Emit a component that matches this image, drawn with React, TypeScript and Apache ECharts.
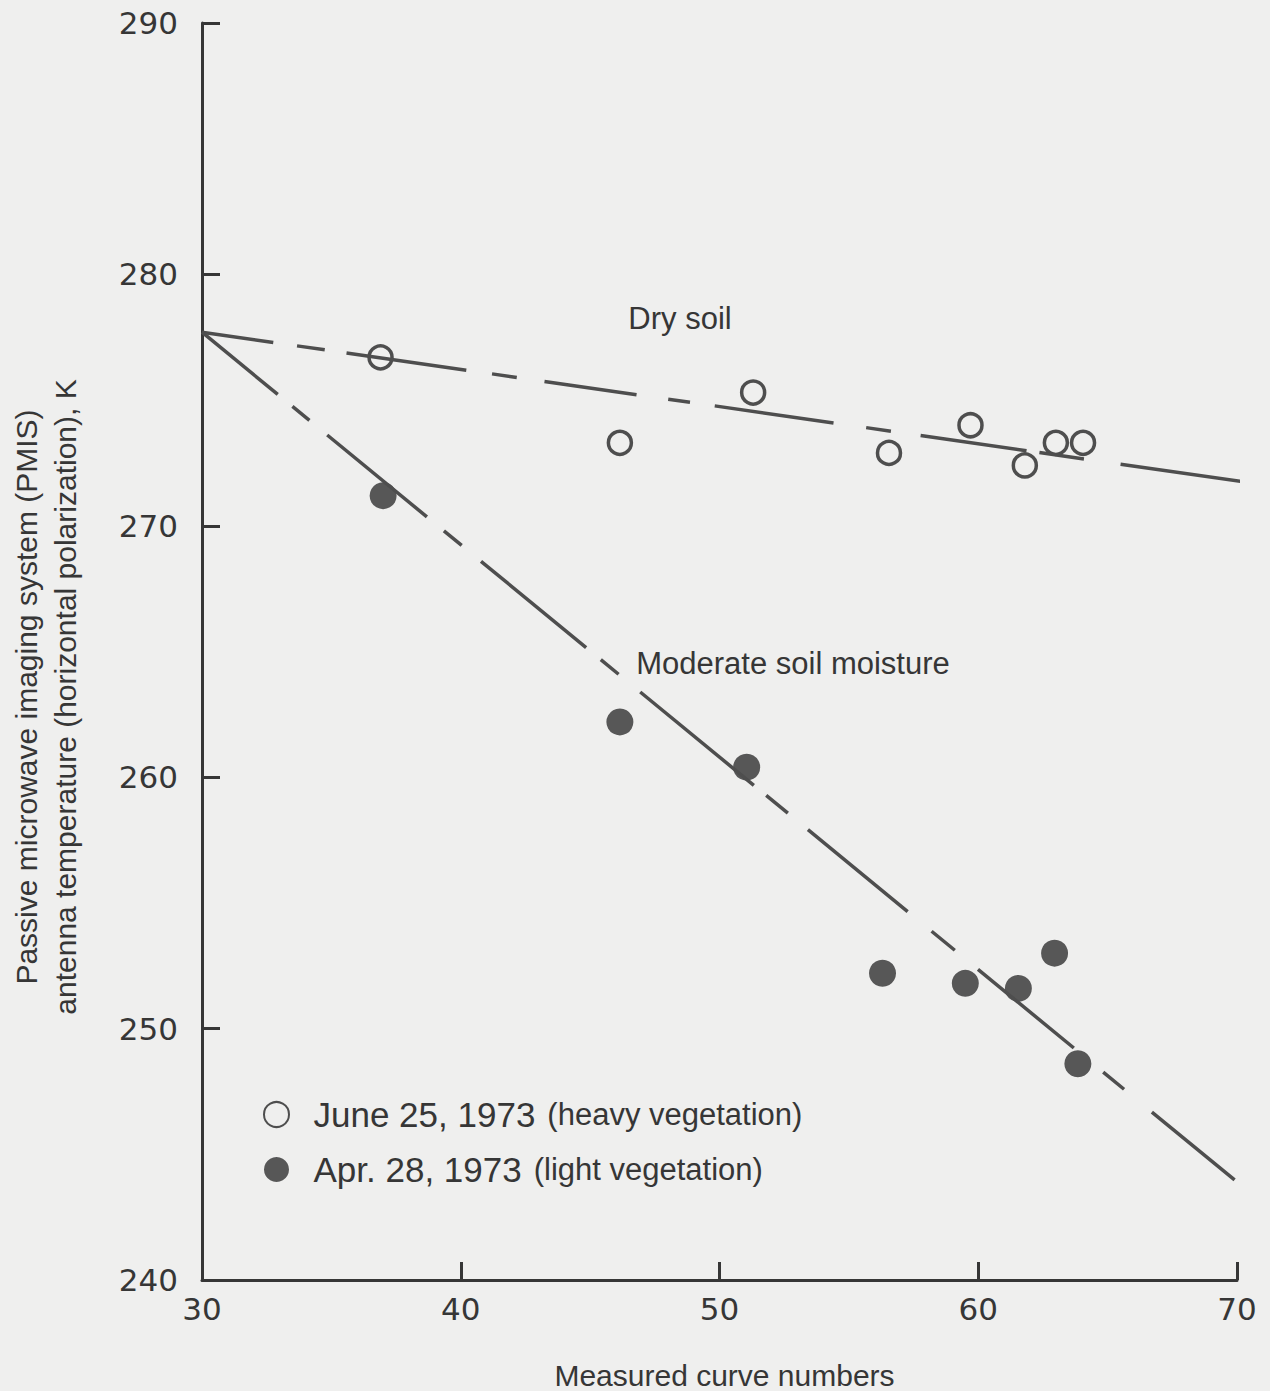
import React, { useEffect, useRef } from "react";
import * as echarts from "echarts";

// ---- data ----
const xTicks = [30, 40, 50, 60, 70];
const yTicks = [240, 250, 260, 270, 280, 290];

const juneName = "June 25, 1973 (heavy vegetation)";
const juneCurveNumbers = [36.9, 46.15, 51.3, 56.55, 59.7, 61.8, 63.0, 64.05];
const juneTemps = [276.7, 273.3, 275.3, 272.9, 274.0, 272.4, 273.3, 273.3];

const aprilName = "Apr. 28, 1973 (light vegetation)";
const aprilCurveNumbers = [37.0, 46.15, 51.05, 56.3, 59.5, 61.55, 62.95, 63.85];
const aprilTemps = [271.2, 262.2, 260.4, 252.2, 251.8, 251.6, 253.0, 248.6];

const dryLineX = [30, 70.31];
const dryLineY = [277.7, 271.74];
const moderateLineX = [30, 70];
const moderateLineY = [277.7, 243.9];

const dryLabel = "Dry soil";
const moderateLabel = "Moderate soil moisture";
const xTitle = "Measured curve numbers";
const yTitle = [
  "Passive microwave imaging system (PMIS)",
  "antenna temperature (horizontal polarization), K",
];

// ---- styles ----
const BG = "#efefee";
const INK = "#363636";
const LINE = "#4e4e4e";
const DOT = "#575757";
const NUM_FONT = '"DejaVu Sans", sans-serif';
const TXT_FONT = '"Liberation Sans", Arial, sans-serif';
const dryDash = [72, 24, 28, 22, 121, 26, 25, 28, 93, 32, 22, 25, 120, 33, 25, 30, 107, 13, 45, 37, 121, 200];
const moderateDash = [98, 19, 22, 23, 129, 22, 23, 25, 136, 19, 23, 28, 147, 16, 28, 26, 129, 31, 30, 30, 124, 38, 27, 36, 107, 200];

export default function App() {
  const ref = useRef<HTMLDivElement>(null);

  useEffect(() => {
    document.body.style.margin = "0";
    document.body.style.background = BG;
    if (!ref.current) return;
    const chart = echarts.init(ref.current, undefined, { renderer: "svg" });

    const pair = (xs: number[], ys: number[]) => xs.map((x, i) => [x, ys[i]]);

    const option: any = {
      animation: false,
      backgroundColor: BG,
      grid: { left: 202, top: 23, width: 1035, height: 1257, containLabel: false, outerBoundsMode: "none" },
      xAxis: {
        type: "value",
        min: xTicks[0],
        max: xTicks[xTicks.length - 1],
        interval: 10,
        name: xTitle,
        nameLocation: "middle",
        nameGap: 80,
        nameTextStyle: { fontFamily: TXT_FONT, fontSize: 30, color: INK, padding: [0, 0, 0, 10] },
        axisLine: { show: true, lineStyle: { color: INK, width: 3 } },
        axisTick: { show: true, inside: true, length: 18, lineStyle: { color: INK, width: 3 } },
        axisLabel: { margin: 13, fontFamily: NUM_FONT, fontSize: 31, color: INK },
        splitLine: { show: false },
      },
      yAxis: {
        type: "value",
        min: yTicks[0],
        max: yTicks[yTicks.length - 1],
        interval: 10,
        axisLine: { show: true, lineStyle: { color: INK, width: 3 } },
        axisTick: { show: true, inside: true, length: 18, lineStyle: { color: INK, width: 3 } },
        axisLabel: { margin: 24, fontFamily: NUM_FONT, fontSize: 31, color: INK },
        splitLine: { show: false },
      },
      legend: {
        orient: "vertical",
        left: 258,
        top: 1092,
        itemWidth: 64,
        itemHeight: 25,
        itemGap: 20,
        data: [juneName, aprilName],
        formatter: (name: string) => {
          const i = name.indexOf(" (");
          return `{a|${name.slice(0, i)}}{s| }{b|${name.slice(i + 1)}}`;
        },
        textStyle: {
          color: INK,
          rich: {
            a: { fontFamily: TXT_FONT, fontSize: 35, color: INK },
            s: { fontFamily: TXT_FONT, fontSize: 30, color: INK, width: 12 },
            b: { fontFamily: TXT_FONT, fontSize: 31, color: INK },
          },
        },
      },
      graphic: [
        {
          type: "text",
          x: 46,
          y: 697,
          rotation: Math.PI / 2,
          style: {
            text: yTitle.join("\n"),
            font: `30px ${TXT_FONT}`,
            fill: INK,
            align: "center",
            verticalAlign: "middle",
            lineHeight: 39,
          },
        },
        {
          type: "text",
          x: 680,
          y: 318,
          style: { text: dryLabel, font: `31px ${TXT_FONT}`, fill: INK, align: "center", verticalAlign: "middle" },
        },
        {
          type: "text",
          x: 793,
          y: 663,
          style: { text: moderateLabel, font: `31px ${TXT_FONT}`, fill: INK, align: "center", verticalAlign: "middle" },
        },
      ],
      series: [
        {
          name: dryLabel,
          type: "line",
          data: pair(dryLineX, dryLineY),
          symbol: "none",
          clip: false,
          lineStyle: { color: LINE, width: 3.5, type: dryDash },
          silent: true,
        },
        {
          name: moderateLabel,
          type: "line",
          data: pair(moderateLineX, moderateLineY),
          symbol: "none",
          clip: false,
          lineStyle: { color: LINE, width: 3.5, type: moderateDash },
          silent: true,
        },
        {
          name: juneName,
          type: "scatter",
          data: pair(juneCurveNumbers, juneTemps),
          symbol: "circle",
          symbolSize: 23,
          itemStyle: { color: BG, borderColor: LINE, borderWidth: 3.5, opacity: 1 },
        },
        {
          name: aprilName,
          type: "scatter",
          data: pair(aprilCurveNumbers, aprilTemps),
          symbol: "circle",
          symbolSize: 27,
          itemStyle: { color: DOT, opacity: 1 },
        },
      ],
    };

    chart.setOption(option);
    return () => chart.dispose();
  }, []);

  return <div ref={ref} style={{ width: 1270, height: 1391 }} />;
}
